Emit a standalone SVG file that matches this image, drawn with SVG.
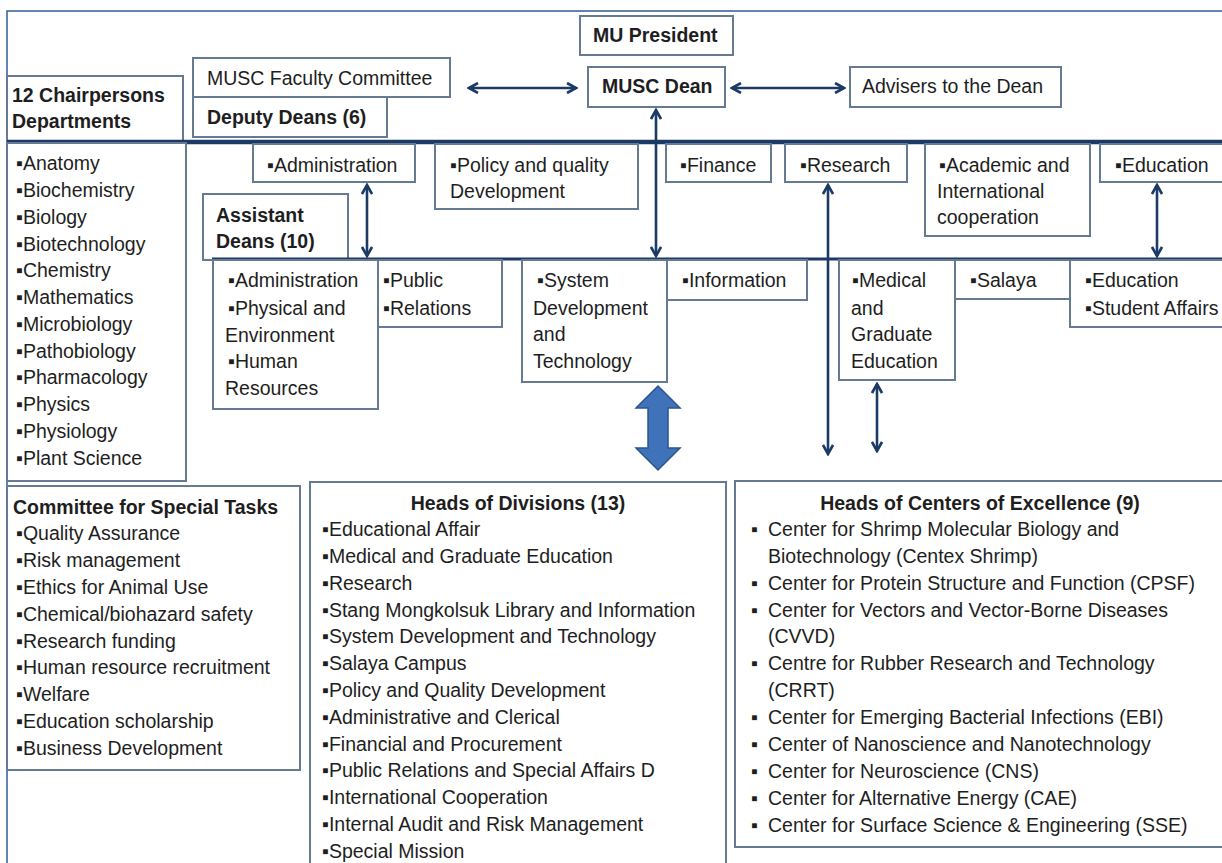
<svg xmlns="http://www.w3.org/2000/svg" width="1222" height="863" viewBox="0 0 1222 863">
<defs>
<style>
text{font-family:"Liberation Sans",Arial,sans-serif;font-size:19.5px;fill:#1e1e1e}
.b{font-weight:bold}
.box{fill:#fff;stroke:#667a94;stroke-width:2}
.conn{stroke:#1c3a66;stroke-width:2.6;fill:none}
.bar{stroke:#1c3a66;fill:none}
</style>
<marker id="ah" viewBox="0 0 12 12" refX="10" refY="6" markerWidth="12" markerHeight="12" markerUnits="userSpaceOnUse" orient="auto-start-reverse">
<path d="M1,1 L10,6 L1,11" fill="none" stroke="#1c3a66" stroke-width="2.6"/>
</marker>
</defs>
<rect x="0" y="0" width="1222" height="863" fill="#fff"/>
<path d="M7,863 V11 H1222" fill="none" stroke="#2e5c9a" stroke-width="1.5"/>

<g id="mu-president"><rect class="box" x="580" y="16" width="153" height="39"/><text class="b" x="593" y="42">MU President</text></g>
<g id="musc-dean"><rect class="box" x="588" y="67" width="137" height="40"/><text class="b" x="602" y="93">MUSC Dean</text></g>
<g id="advisers"><rect class="box" x="850" y="67" width="211" height="40"/><text x="862" y="93">Advisers to the Dean</text></g>
<g id="faculty-committee"><rect class="box" x="193" y="58" width="257" height="39"/><text x="207" y="85">MUSC Faculty Committee</text></g>
<g id="deputy-deans"><rect class="box" x="193" y="97" width="194" height="40"/><text class="b" x="207" y="124">Deputy Deans (6)</text></g>
<g id="chairpersons"><rect class="box" x="7" y="76" width="176" height="66"/><text class="b" x="12" y="102">12 Chairpersons</text><text class="b" x="12" y="128">Departments</text></g>

<g id="bars">
<line class="bar" x1="7" y1="142" x2="1222" y2="142" stroke-width="4.5"/>
</g>

<g id="departments"><rect class="box" x="7" y="143" width="179" height="338"/>
<text x="16" y="170">▪Anatomy</text>
<text x="16" y="197">▪Biochemistry</text>
<text x="16" y="224">▪Biology</text>
<text x="16" y="251">▪Biotechnology</text>
<text x="16" y="277">▪Chemistry</text>
<text x="16" y="304">▪Mathematics</text>
<text x="16" y="331">▪Microbiology</text>
<text x="16" y="358">▪Pathobiology</text>
<text x="16" y="384">▪Pharmacology</text>
<text x="16" y="411">▪Physics</text>
<text x="16" y="438">▪Physiology</text>
<text x="16" y="465">▪Plant Science</text>
</g>

<g id="dd-administration"><rect class="box" x="253" y="144" width="162" height="38"/><text x="267" y="172">▪Administration</text></g>
<g id="dd-policy"><rect class="box" x="435" y="144" width="203" height="65"/><text x="450" y="172">▪Policy and quality</text><text x="450" y="198">Development</text></g>
<g id="dd-finance"><rect class="box" x="666" y="144" width="105" height="38"/><text x="680" y="172">▪Finance</text></g>
<g id="dd-research"><rect class="box" x="785" y="144" width="122" height="38"/><text x="800" y="172">▪Research</text></g>
<g id="dd-academic"><rect class="box" x="925" y="144" width="165" height="92"/><text x="939" y="172">▪Academic and</text><text x="937" y="198">International</text><text x="937" y="224">cooperation</text></g>
<g id="dd-education"><rect class="box" x="1100" y="144" width="130" height="38"/><text x="1115" y="172">▪Education</text></g>

<g id="assistant-deans"><rect class="box" x="203" y="194" width="145" height="66"/><text class="b" x="216" y="222">Assistant</text><text class="b" x="216" y="248">Deans (10)</text></g>

<g id="bar2"><line class="bar" x1="212" y1="259" x2="1222" y2="259" stroke-width="3"/></g>

<g id="ad-administration"><rect class="box" x="213" y="260" width="165" height="149"/>
<text x="228" y="287">▪Administration</text><text x="228" y="315">▪Physical and</text><text x="225" y="342">Environment</text><text x="228" y="368">▪Human</text><text x="225" y="395">Resources</text></g>
<g id="ad-public"><rect class="box" x="378" y="260" width="124" height="67"/><text x="383" y="287">▪Public</text><text x="383" y="315">▪Relations</text></g>
<g id="ad-system"><rect class="box" x="522" y="260" width="145" height="122"/><text x="537" y="287">▪System</text><text x="533" y="315">Development</text><text x="533" y="341">and</text><text x="533" y="368">Technology</text></g>
<g id="ad-information"><rect class="box" x="667" y="260" width="140" height="40"/><text x="682" y="287">▪Information</text></g>
<g id="ad-medical"><rect class="box" x="839" y="260" width="116" height="120"/><text x="852" y="287">▪Medical</text><text x="851" y="315">and</text><text x="851" y="341">Graduate</text><text x="851" y="368">Education</text></g>
<g id="ad-salaya"><rect class="box" x="955" y="260" width="115" height="39"/><text x="970" y="287">▪Salaya</text></g>
<g id="ad-education"><rect class="box" x="1070" y="260" width="160" height="67"/><text x="1085" y="287">▪Education</text><text x="1085" y="315">▪Student Affairs</text></g>

<g id="special-tasks"><rect class="box" x="7" y="486" width="293" height="284"/>
<text class="b" x="13" y="514">Committee for Special Tasks</text>
<text x="16" y="540">▪Quality Assurance</text>
<text x="16" y="567">▪Risk management</text>
<text x="16" y="594">▪Ethics for Animal Use</text>
<text x="16" y="621">▪Chemical/biohazard safety</text>
<text x="16" y="648">▪Research funding</text>
<text x="16" y="674">▪Human resource recruitment</text>
<text x="16" y="701">▪Welfare</text>
<text x="16" y="728">▪Education scholarship</text>
<text x="16" y="755">▪Business Development</text>
</g>

<g id="heads-divisions"><rect class="box" x="310" y="482" width="416" height="400"/>
<text class="b" x="518" y="510" text-anchor="middle">Heads of Divisions (13)</text>
<text x="322" y="536">▪Educational Affair</text>
<text x="322" y="563">▪Medical and Graduate Education</text>
<text x="322" y="590">▪Research</text>
<text x="322" y="617">▪Stang Mongkolsuk Library and Information</text>
<text x="322" y="643">▪System Development and Technology</text>
<text x="322" y="670">▪Salaya Campus</text>
<text x="322" y="697">▪Policy and Quality Development</text>
<text x="322" y="724">▪Administrative and Clerical</text>
<text x="322" y="751">▪Financial and Procurement</text>
<text x="322" y="777">▪Public Relations and Special Affairs D</text>
<text x="322" y="804">▪International Cooperation</text>
<text x="322" y="831">▪Internal Audit and Risk Management</text>
<text x="322" y="858">▪Special Mission</text>
</g>

<g id="heads-centers"><rect class="box" x="735" y="481" width="495" height="366"/>
<text class="b" x="980" y="510" text-anchor="middle">Heads of Centers of Excellence (9)</text>
<text x="751" y="536">▪</text><text x="768" y="536">Center for Shrimp Molecular Biology and</text>
<text x="768" y="563">Biotechnology (Centex Shrimp)</text>
<text x="751" y="590">▪</text><text x="768" y="590">Center for Protein Structure and Function (CPSF)</text>
<text x="751" y="617">▪</text><text x="768" y="617">Center for Vectors and Vector-Borne Diseases</text>
<text x="768" y="643">(CVVD)</text>
<text x="751" y="670">▪</text><text x="768" y="670">Centre for Rubber Research and Technology</text>
<text x="768" y="697">(CRRT)</text>
<text x="751" y="724">▪</text><text x="768" y="724">Center for Emerging Bacterial Infections (EBI)</text>
<text x="751" y="751">▪</text><text x="768" y="751">Center of Nanoscience and Nanotechnology</text>
<text x="751" y="778">▪</text><text x="768" y="778">Center for Neuroscience (CNS)</text>
<text x="751" y="805">▪</text><text x="768" y="805">Center for Alternative Energy (CAE)</text>
<text x="751" y="832">▪</text><text x="768" y="832">Center for Surface Science &amp; Engineering (SSE)</text>
</g>

<g id="connectors">
<line class="conn" x1="469" y1="88" x2="576" y2="88" marker-start="url(#ah)" marker-end="url(#ah)"/>
<line class="conn" x1="732" y1="88" x2="844" y2="88" marker-start="url(#ah)" marker-end="url(#ah)"/>
<line class="conn" x1="656" y1="110" x2="656" y2="256" marker-start="url(#ah)" marker-end="url(#ah)"/>
<line class="conn" x1="367" y1="185" x2="367" y2="256" marker-start="url(#ah)" marker-end="url(#ah)"/>
<line class="conn" x1="1157" y1="185" x2="1157" y2="256" marker-start="url(#ah)" marker-end="url(#ah)"/>
<line class="conn" x1="828" y1="185" x2="828" y2="454" marker-start="url(#ah)" marker-end="url(#ah)"/>
<line class="conn" x1="877" y1="384" x2="877" y2="451" marker-start="url(#ah)" marker-end="url(#ah)"/>
<polygon points="658,386 680,408 668,408 668,448 680,448 658,470 636,448 648,448 648,408 636,408" fill="#3f72b8" stroke="#2a558f" stroke-width="1.5"/>
</g>
</svg>
